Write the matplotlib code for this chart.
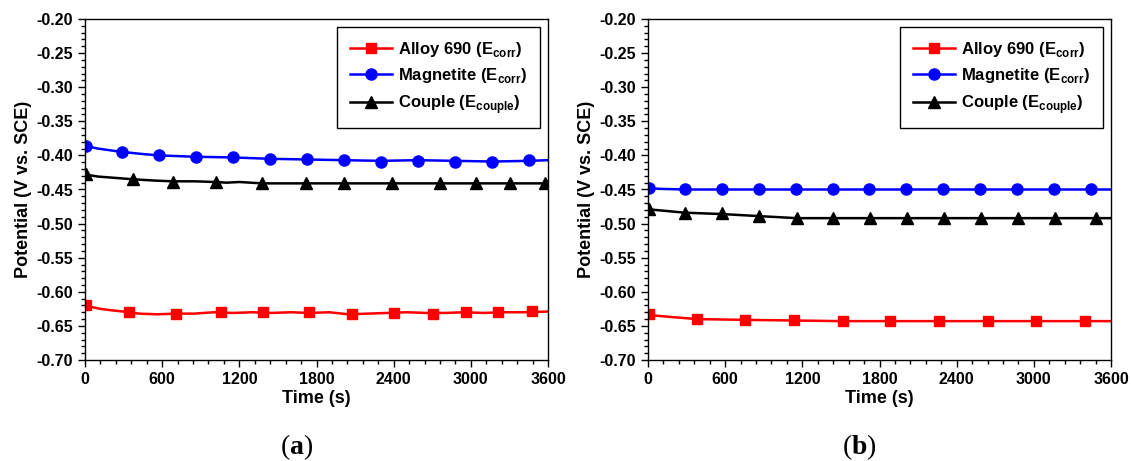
import matplotlib
matplotlib.use("Agg")
import matplotlib.pyplot as plt
from matplotlib.ticker import MultipleLocator

plt.rcParams["font.family"] = ["Liberation Sans", "DejaVu Sans"]
plt.rcParams["font.weight"] = "bold"
plt.rcParams["mathtext.fontset"] = "custom"
plt.rcParams["mathtext.rm"] = "Liberation Serif"
plt.rcParams["mathtext.bf"] = "Liberation Serif:bold"

# --- panel (a): traces ---
a_alloy_t = [0, 40, 120, 200, 300, 420, 560, 700, 850, 1000, 1150, 1300, 1450, 1600,
             1750, 1900, 2050, 2200, 2350, 2500, 2650, 2800, 2950, 3100, 3250, 3400, 3600]
a_alloy_v = [-0.619, -0.622, -0.625, -0.627, -0.629, -0.632, -0.633, -0.632, -0.632, -0.630,
             -0.631, -0.630, -0.631, -0.630, -0.631, -0.630, -0.633, -0.632, -0.631, -0.630,
             -0.631, -0.631, -0.630, -0.631, -0.630, -0.630, -0.629]
a_alloy_mt = [10, 342, 707, 1057, 1384, 1742, 2076, 2403, 2706, 2963, 3212, 3476]
a_alloy_mv = [-0.619, -0.629, -0.632, -0.630, -0.630, -0.630, -0.633, -0.631, -0.632,
              -0.630, -0.630, -0.628]

a_mag_t = [0, 100, 290, 450, 575, 860, 1150, 1440, 1726, 2014, 2300, 2590, 2880, 3170, 3450, 3600]
a_mag_v = [-0.386, -0.390, -0.395, -0.398, -0.400, -0.402, -0.403, -0.405, -0.406, -0.407,
           -0.408, -0.407, -0.408, -0.409, -0.408, -0.407]
a_mag_mt = [10, 288, 575, 863, 1151, 1438, 1726, 2014, 2301, 2589, 2877, 3164, 3452]
a_mag_mv = [-0.386, -0.395, -0.399, -0.403, -0.403, -0.406, -0.406, -0.407, -0.409,
            -0.408, -0.409, -0.410, -0.407]

a_cpl_t = [0, 100, 373, 550, 684, 850, 1019, 1100, 1200, 1376, 3600]
a_cpl_v = [-0.428, -0.431, -0.435, -0.437, -0.438, -0.438, -0.439, -0.440, -0.439, -0.441, -0.441]
a_cpl_mt = [10, 373, 684, 1019, 1376, 1718, 2014, 2387, 2760, 3040, 3305, 3580]
a_cpl_mv = [-0.428, -0.435, -0.439, -0.439, -0.441, -0.441, -0.441, -0.441, -0.441,
            -0.441, -0.441, -0.441]

# --- panel (b) ---
b_alloy_t = [0, 60, 184, 378, 700, 1100, 1500, 3600]
b_alloy_v = [-0.632, -0.635, -0.637, -0.640, -0.641, -0.642, -0.643, -0.643]
b_alloy_mt = [10, 378, 758, 1133, 1513, 1885, 2263, 2643, 3018, 3396]
b_alloy_mv = [-0.632, -0.640, -0.641, -0.642, -0.643, -0.643, -0.643, -0.643, -0.643, -0.643]

b_mag_t = [0, 80, 287, 3600]
b_mag_v = [-0.447, -0.449, -0.450, -0.450]
b_mag_mt = [10, 287, 574, 861, 1148, 1435, 1722, 2009, 2296, 2583, 2870, 3157, 3444]
b_mag_mv = [-0.448, -0.450, -0.450, -0.450, -0.450, -0.450, -0.450, -0.450, -0.450,
            -0.450, -0.450, -0.450, -0.450]

b_cpl_t = [0, 287, 574, 861, 1155, 3600]
b_cpl_v = [-0.479, -0.484, -0.486, -0.489, -0.492, -0.492]
b_cpl_mt = [10, 287, 574, 861, 1155, 1442, 1729, 2016, 2303, 2590, 2878, 3165, 3483]
b_cpl_mv = [-0.479, -0.484, -0.485, -0.489, -0.492, -0.492, -0.492, -0.492, -0.492,
            -0.492, -0.492, -0.492, -0.492]

labels = ["Alloy 690 (E$_\\mathregular{corr}$)",
          "Magnetite (E$_\\mathregular{corr}$)",
          "Couple (E$_\\mathregular{couple}$)"]
colors = ["#ff0000", "#0000ff", "#000000"]
markers = ["s", "o", "^"]
msizes = [7.5, 8, 8]

panels = [
    ([(a_alloy_t, a_alloy_v, a_alloy_mt, a_alloy_mv),
      (a_mag_t, a_mag_v, a_mag_mt, a_mag_mv),
      (a_cpl_t, a_cpl_v, a_cpl_mt, a_cpl_mv)], "a"),
    ([(b_alloy_t, b_alloy_v, b_alloy_mt, b_alloy_mv),
      (b_mag_t, b_mag_v, b_mag_mt, b_mag_mv),
      (b_cpl_t, b_cpl_v, b_cpl_mt, b_cpl_mv)], "b"),
]

fig = plt.figure(figsize=(11.31, 4.61), dpi=100)
lefts = [85 / 1131, 648 / 1131]
width = 463 / 1131
bottom = 101 / 461
height = 341 / 461

for (series, tag), left in zip(panels, lefts):
    ax = fig.add_axes([left, bottom, width, height])
    for (t, v, mt, mv), c, m, ms, lab in zip(series, colors, markers, msizes, labels):
        ax.plot(t, v, color=c, lw=1.8)
        ax.plot(mt, mv, ls="none", marker=m, ms=ms, color=c, mec=c)
        ax.plot([], [], color=c, lw=1.8, marker=m, ms=ms, label=lab)
    ax.set_xlim(0, 3600)
    ax.set_ylim(-0.70, -0.20)
    ax.xaxis.set_major_locator(MultipleLocator(600))
    ax.xaxis.set_minor_locator(MultipleLocator(120))
    ax.yaxis.set_major_locator(MultipleLocator(0.05))
    ax.yaxis.set_minor_locator(MultipleLocator(0.01))
    ax.yaxis.set_major_formatter(matplotlib.ticker.FormatStrFormatter("%.2f"))
    ax.tick_params(which="both", direction="out", top=False, right=False,
                   labelsize=11.5, width=1)
    ax.tick_params(which="major", length=5)
    ax.tick_params(which="minor", length=3)
    for sp in ax.spines.values():
        sp.set_linewidth(1)
    ax.set_xlabel("Time (s)", fontsize=13, fontweight="bold", labelpad=2)
    ax.set_ylabel("Potential (V vs. SCE)", fontsize=13, fontweight="bold", labelpad=3)
    leg = ax.legend(loc="upper right", fontsize=12, handlelength=2.5, handletextpad=0.4,
                    labelspacing=0.45, borderpad=0.75, borderaxespad=0.5, numpoints=1,
                    fancybox=False, framealpha=1, edgecolor="black")
    leg.get_frame().set_linewidth(1)
    cx = left + width / 2 - 20 / 1131
    fig.text(cx, 14 / 461, "($\\mathbf{%s}$)" % tag, ha="center", va="center",
             fontsize=20, family="Liberation Serif", fontweight="normal")

fig.savefig("out.png", dpi=100)
